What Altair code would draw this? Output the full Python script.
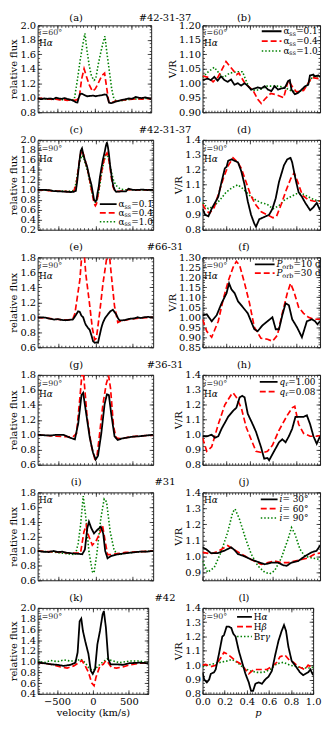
import altair as alt
import pandas as pd

FONT = "DejaVu Serif"

# ---------------- data ----------------
# (a) relative flux vs velocity, i=60
A_K = [(-770,0.99),(-720,0.98),(-680,0.99),(-640,0.985),(-600,0.99),(-560,0.98),(-520,1.0),(-480,0.99),(-440,0.985),(-400,0.995),(-360,0.98),(-330,0.975),(-290,0.96),(-255,0.94),(-230,0.935),(-215,0.99),(-195,1.05),(-170,1.055),(-140,1.04),(-100,1.02),(-60,1.025),(-20,1.03),(20,1.02),(60,1.03),(100,1.035),(140,1.045),(165,1.04),(180,1.0),(200,0.93),(230,0.925),(270,0.94),(320,0.955),(380,0.97),(425,0.98),(470,0.99),(510,0.985),(558,1.01),(600,1.0),(640,0.995),(690,1.005),(730,0.995),(770,0.98)]
A_R = [(-770,0.985),(-720,0.99),(-670,0.98),(-620,0.985),(-570,0.975),(-520,0.98),(-470,0.97),(-420,0.975),(-370,0.965),(-320,0.97),(-270,0.965),(-240,0.97),(-205,1.0),(-175,1.25),(-140,1.40),(-110,1.3),(-71,1.18),(-27,1.09),(10,1.12),(38,1.17),(75,1.25),(105,1.31),(138,1.34),(165,1.15),(195,0.94),(230,0.93),(280,0.95),(340,0.96),(400,0.97),(460,0.975),(520,0.98),(580,0.985),(640,0.98),(700,0.99),(770,0.985)]
A_G = [(-770,0.99),(-700,0.98),(-640,0.985),(-580,0.98),(-520,0.985),(-460,0.975),(-400,0.97),(-340,0.965),(-300,0.97),(-272,0.98),(-230,1.25),(-196,1.5),(-160,1.72),(-129,1.89),(-100,1.65),(-71,1.45),(-40,1.3),(-5,1.24),(18,1.26),(50,1.45),(85,1.62),(115,1.75),(142,1.85),(170,1.62),(205,1.35),(235,1.12),(263,0.99),(290,0.96),(340,0.955),(400,0.965),(460,0.975),(520,0.98),(580,0.985),(640,0.98),(700,0.99),(770,0.985)]
# (b) V/R vs phase, i=60
B_K = [(0,1.011),(0.043,1.016),(0.071,1.011),(0.1,1.022),(0.129,1.009),(0.157,1.024),(0.186,1.011),(0.214,1.005),(0.243,1.013),(0.271,0.995),(0.3,1.0),(0.329,0.992),(0.357,1.0),(0.386,0.991),(0.414,0.978),(0.443,0.982),(0.471,0.986),(0.5,0.982),(0.529,0.99),(0.557,0.978),(0.586,0.973),(0.614,0.99),(0.643,0.978),(0.671,0.982),(0.7,0.984),(0.729,1.008),(0.743,1.011),(0.757,0.978),(0.786,0.962),(0.814,0.967),(0.843,0.978),(0.871,0.989),(0.9,0.995),(0.914,1.027),(0.943,1.03),(0.957,1.024),(0.986,1.027),(1.0,1.022)]
B_R = [(0,1.025),(0.05,1.02),(0.09,1.005),(0.13,1.02),(0.2,1.075),(0.25,1.05),(0.29,1.03),(0.31,1.035),(0.36,1.0),(0.43,0.975),(0.47,0.945),(0.5,0.93),(0.53,0.945),(0.58,0.965),(0.63,0.96),(0.69,0.95),(0.73,1.01),(0.77,0.985),(0.8,0.97),(0.86,0.975),(0.93,1.02),(1.0,1.015)]
B_G = [(0,1.02),(0.05,1.04),(0.1,1.055),(0.15,1.03),(0.18,1.02),(0.23,1.035),(0.3,1.04),(0.34,1.04),(0.4,0.98),(0.45,0.975),(0.5,0.98),(0.55,0.99),(0.6,0.99),(0.65,0.99),(0.7,0.985),(0.75,0.975),(0.8,0.97),(0.85,0.975),(0.9,1.0),(0.94,1.025),(1.0,1.02)]
# (c) relative flux, i=90
C_K = [(-770,1.0),(-700,1.0),(-640,0.995),(-600,0.99),(-559,0.975),(-500,0.97),(-440,0.965),(-380,0.96),(-330,0.955),(-290,0.96),(-260,0.98),(-240,1.2),(-215,1.55),(-195,1.78),(-178,1.83),(-160,1.7),(-130,1.55),(-110,1.46),(-80,1.25),(-53,1.1),(-35,0.95),(-18,0.8),(0,0.77),(13,0.78),(30,0.95),(44,1.05),(60,1.25),(79,1.42),(100,1.6),(123,1.75),(140,1.88),(154,1.95),(168,1.85),(180,1.72),(195,1.5),(211,1.33),(225,1.18),(242,1.06),(260,0.99),(277,0.96),(320,0.965),(360,0.97),(409,0.97),(440,1.02),(470,1.01),(497,1.0),(540,0.995),(590,1.0),(629,1.005),(690,0.995),(770,1.0)]
C_R = [(-770,1.0),(-650,0.99),(-560,0.975),(-450,0.97),(-330,0.96),(-290,0.97),(-255,1.1),(-225,1.45),(-200,1.7),(-180,1.79),(-160,1.72),(-130,1.55),(-100,1.38),(-70,1.15),(-40,0.9),(-15,0.72),(0,0.68),(15,0.72),(40,0.95),(70,1.25),(100,1.5),(130,1.68),(155,1.74),(175,1.65),(195,1.45),(215,1.22),(235,1.06),(255,0.99),(280,0.97),(330,0.97),(400,0.99),(460,1.005),(520,0.995),(600,1.0),(680,1.0),(770,0.995)]
C_G = [(-770,1.0),(-650,0.99),(-550,0.98),(-450,0.975),(-350,0.97),(-300,0.98),(-270,1.05),(-240,1.3),(-210,1.55),(-180,1.69),(-160,1.66),(-130,1.5),(-100,1.35),(-70,1.12),(-40,0.9),(-15,0.76),(5,0.75),(25,0.82),(50,1.0),(80,1.3),(110,1.55),(140,1.7),(165,1.68),(190,1.52),(215,1.35),(240,1.2),(270,1.1),(300,1.05),(340,1.01),(400,1.0),(500,1.0),(600,0.995),(770,1.0)]
# (d) V/R, i=90
D_K = [(0,0.94),(0.022,0.90),(0.05,0.89),(0.078,0.94),(0.106,0.98),(0.134,1.02),(0.162,1.12),(0.19,1.21),(0.205,1.22),(0.218,1.26),(0.246,1.27),(0.274,1.26),(0.302,1.25),(0.33,1.19),(0.358,1.10),(0.385,0.99),(0.413,0.90),(0.441,0.84),(0.455,0.82),(0.483,0.87),(0.511,0.88),(0.539,0.89),(0.567,0.90),(0.595,0.94),(0.623,1.01),(0.651,1.12),(0.693,1.23),(0.721,1.27),(0.749,1.28),(0.763,1.25),(0.791,1.14),(0.818,1.05),(0.846,1.02),(0.874,0.98),(0.916,0.93),(0.944,0.95),(0.972,0.98),(1.0,0.93)]
D_R = [(0,0.97),(0.03,0.93),(0.06,0.91),(0.1,0.95),(0.14,1.05),(0.18,1.15),(0.22,1.23),(0.26,1.28),(0.3,1.25),(0.33,1.21),(0.37,1.12),(0.41,1.03),(0.45,0.97),(0.5,0.92),(0.55,0.9),(0.6,0.88),(0.63,0.89),(0.67,0.97),(0.71,1.06),(0.75,1.14),(0.78,1.18),(0.81,1.12),(0.85,1.03),(0.9,1.0),(0.95,0.99),(1.0,0.99)]
D_G = [(0,0.98),(0.05,0.94),(0.1,0.96),(0.15,1.0),(0.2,1.05),(0.25,1.08),(0.3,1.1),(0.35,1.07),(0.4,1.03),(0.45,1.0),(0.5,0.98),(0.55,0.97),(0.6,0.94),(0.65,0.96),(0.7,1.0),(0.75,1.02),(0.8,1.04),(0.85,1.04),(0.9,1.02),(0.95,1.0),(1.0,0.99)]
# (e) relative flux, Porb
E_K = [(-770,1.0),(-700,1.0),(-640,0.99),(-600,0.98),(-550,0.97),(-500,0.975),(-450,0.965),(-400,0.96),(-350,0.965),(-300,0.97),(-260,1.03),(-230,1.08),(-210,1.075),(-185,1.02),(-163,1.0),(-140,0.93),(-128,0.9),(-100,0.86),(-75,0.83),(-50,0.75),(-31,0.68),(-9,0.66),(15,0.665),(35,0.66),(57,0.76),(80,0.86),(101,0.93),(130,0.99),(167,1.04),(200,1.08),(233,1.10),(255,1.07),(277,1.04),(300,0.99),(321,0.96),(360,0.96),(400,0.965),(460,0.98),(520,0.985),(560,1.0),(600,0.99),(650,1.0),(700,1.005),(770,1.0)]
E_R = [(-770,1.0),(-700,0.99),(-620,0.985),(-550,0.975),(-480,0.97),(-420,0.965),(-360,0.965),(-300,0.98),(-273,1.05),(-207,1.5),(-185,1.78),(-160,1.92),(-145,1.8),(-128,1.58),(-84,1.23),(-40,0.85),(-9,0.70),(13,0.72),(57,1.06),(101,1.45),(145,1.75),(170,1.92),(190,1.8),(211,1.58),(255,1.15),(299,0.93),(340,0.95),(400,0.96),(460,0.975),(520,0.98),(600,0.99),(680,0.995),(770,1.0)]
# (f) V/R, Porb
F_K = [(0,1.01),(0.036,1.015),(0.078,0.98),(0.12,1.01),(0.162,1.07),(0.204,1.12),(0.226,1.17),(0.246,1.14),(0.274,1.12),(0.302,1.08),(0.344,1.05),(0.385,1.02),(0.441,0.94),(0.469,0.93),(0.511,0.96),(0.553,0.98),(0.595,1.0),(0.623,0.94),(0.651,0.94),(0.679,1.01),(0.707,1.07),(0.735,1.06),(0.763,0.99),(0.804,0.95),(0.846,0.90),(0.888,0.98),(0.93,0.99),(0.958,0.98),(0.978,0.965),(1.0,0.98)]
F_R = [(0,0.99),(0.036,0.93),(0.078,0.90),(0.134,0.98),(0.176,1.09),(0.218,1.18),(0.26,1.25),(0.288,1.28),(0.316,1.26),(0.358,1.17),(0.4,1.07),(0.441,0.95),(0.497,0.895),(0.553,0.89),(0.595,0.88),(0.637,0.91),(0.679,1.02),(0.721,1.12),(0.749,1.17),(0.777,1.13),(0.818,1.05),(0.86,1.02),(0.902,1.0),(0.944,0.99),(1.0,0.99)]
# (g) relative flux, qr
G_K = [(-770,1.0),(-700,0.995),(-603,0.99),(-520,1.0),(-427,1.0),(-380,0.98),(-339,0.96),(-273,0.94),(-229,1.15),(-185,1.53),(-163,1.56),(-128,1.32),(-75,0.96),(-31,0.76),(4,0.67),(35,0.72),(79,1.02),(123,1.41),(154,1.54),(180,1.53),(211,1.28),(255,0.98),(299,0.93),(350,0.95),(409,0.96),(500,0.975),(585,0.98),(673,0.99),(770,1.0)]
G_R = [(-770,1.0),(-650,0.99),(-520,0.98),(-400,0.975),(-300,0.97),(-251,1.02),(-207,1.49),(-180,1.8),(-165,1.85),(-150,1.72),(-110,1.23),(-53,0.85),(-9,0.68),(22,0.72),(57,1.02),(101,1.41),(145,1.68),(176,1.79),(202,1.62),(242,1.11),(277,0.96),(320,0.95),(400,0.96),(500,0.975),(600,0.985),(770,0.995)]
# (h) V/R, qr
H_K = [(0,0.99),(0.036,0.99),(0.078,1.0),(0.106,0.98),(0.134,0.99),(0.162,1.04),(0.218,1.12),(0.26,1.16),(0.288,1.18),(0.316,1.25),(0.338,1.26),(0.358,1.25),(0.385,1.14),(0.427,1.07),(0.455,1.02),(0.497,0.92),(0.525,0.84),(0.553,0.845),(0.567,0.83),(0.609,0.89),(0.651,0.95),(0.679,0.97),(0.707,0.95),(0.735,0.99),(0.763,1.04),(0.791,1.12),(0.818,1.12),(0.86,1.12),(0.888,1.13),(0.916,1.07),(0.944,0.99),(0.972,0.94),(1.0,0.99)]
H_R = [(0,0.98),(0.036,0.89),(0.078,0.92),(0.134,1.07),(0.19,1.2),(0.246,1.27),(0.26,1.28),(0.288,1.25),(0.33,1.18),(0.372,1.05),(0.413,0.97),(0.455,0.89),(0.511,0.88),(0.553,0.89),(0.595,0.93),(0.651,1.03),(0.721,1.13),(0.763,1.18),(0.785,1.19),(0.818,1.07),(0.86,1.01),(0.916,0.99),(0.972,0.99),(1.0,0.995)]
# (i) relative flux, inclination
I_K = [(-770,1.0),(-700,0.99),(-620,0.985),(-560,1.0),(-500,0.985),(-440,0.99),(-380,0.975),(-330,0.97),(-280,0.965),(-220,0.96),(-175,0.955),(-140,1.02),(-108,1.31),(-86,1.40),(-54,1.31),(-18,1.24),(27,1.29),(72,1.33),(104,1.24),(131,1.0),(162,0.90),(207,0.93),(275,0.95),(340,0.96),(410,0.97),(500,0.98),(590,0.99),(680,0.99),(770,1.0)]
I_R = [(-770,1.0),(-600,0.99),(-450,0.98),(-300,0.97),(-198,0.97),(-153,1.26),(-122,1.35),(-95,1.22),(-41,1.08),(5,1.13),(50,1.22),(95,1.35),(131,1.13),(162,0.95),(207,0.95),(275,0.96),(400,0.98),(600,0.99),(770,1.0)]
I_G = [(-770,1.0),(-650,0.99),(-550,0.985),(-450,0.97),(-350,0.96),(-266,0.95),(-230,1.1),(-198,1.35),(-162,1.75),(-131,1.49),(-86,0.99),(-41,0.72),(-18,0.70),(18,0.95),(72,1.44),(117,1.71),(149,1.67),(198,1.26),(252,1.0),(320,0.95),(400,0.97),(500,0.98),(600,0.99),(770,1.0)]
# (j) V/R, inclination
J_K = [(0,1.056),(0.029,1.045),(0.071,1.02),(0.129,1.02),(0.186,1.035),(0.243,1.056),(0.271,1.04),(0.3,1.015),(0.357,1.0),(0.414,0.98),(0.471,0.965),(0.529,0.95),(0.586,0.96),(0.643,0.96),(0.686,0.945),(0.714,0.94),(0.757,0.96),(0.814,0.97),(0.871,1.0),(0.929,1.025),(0.971,1.035),(1.0,1.067)]
J_R = [(0,1.025),(0.071,1.015),(0.129,1.03),(0.214,1.067),(0.271,1.04),(0.329,1.015),(0.414,0.98),(0.5,0.95),(0.557,0.96),(0.614,0.97),(0.671,0.96),(0.729,0.96),(0.786,0.97),(0.843,0.98),(0.9,0.99),(0.957,1.015),(1.0,1.02)]
J_G = [(0,0.97),(0.043,0.90),(0.1,0.93),(0.157,1.025),(0.214,1.15),(0.257,1.275),(0.277,1.296),(0.314,1.233),(0.371,1.1),(0.414,1.015),(0.471,0.94),(0.529,0.90),(0.571,0.89),(0.614,0.91),(0.671,0.99),(0.729,1.11),(0.757,1.18),(0.786,1.14),(0.829,1.045),(0.871,1.0),(0.929,0.99),(1.0,0.98)]
# (k) relative flux, lines
K_K = [(-770,0.98),(-679,0.97),(-587,0.95),(-496,0.94),(-404,0.92),(-313,0.94),(-244,0.98),(-213,1.17),(-185,1.75),(-162,1.80),(-139,1.57),(-107,1.38),(-62,1.14),(-30,0.83),(-2,0.77),(30,0.86),(62,1.32),(98,1.57),(135,1.88),(153,1.94),(181,1.63),(213,1.05),(245,0.95),(327,0.95),(418,0.94),(510,0.97),(647,0.98),(770,0.97)]
K_R = [(-770,0.98),(-587,0.95),(-450,0.90),(-359,0.88),(-267,0.92),(-199,0.98),(-153,1.02),(-107,0.92),(-62,0.80),(-16,0.60),(16,0.55),(43,0.71),(98,0.92),(144,0.95),(181,1.02),(213,0.98),(258,0.89),(327,0.88),(418,0.90),(510,0.94),(647,0.97),(770,0.98)]
K_G = [(-770,1.01),(-679,0.98),(-587,1.02),(-496,1.0),(-404,1.03),(-313,1.01),(-222,1.01),(-176,1.05),(-107,0.98),(-62,0.89),(-16,0.84),(30,0.86),(98,0.95),(167,1.02),(199,1.05),(258,1.02),(373,0.98),(510,1.01),(647,1.01),(770,0.98)]
# (l) V/R, lines
L_K = [(0,0.95),(0.015,0.90),(0.039,0.88),(0.06,0.90),(0.075,0.94),(0.104,0.95),(0.119,0.97),(0.149,1.08),(0.179,1.20),(0.194,1.21),(0.218,1.27),(0.239,1.27),(0.26,1.26),(0.278,1.22),(0.299,1.20),(0.328,1.10),(0.358,1.02),(0.388,0.94),(0.418,0.88),(0.439,0.82),(0.457,0.82),(0.478,0.87),(0.507,0.88),(0.537,0.87),(0.567,0.90),(0.597,0.92),(0.627,0.96),(0.657,1.07),(0.687,1.17),(0.716,1.24),(0.737,1.28),(0.755,1.24),(0.776,1.13),(0.806,1.03),(0.836,1.0),(0.881,0.95),(0.91,0.93),(0.955,0.95),(0.976,0.97),(1.0,0.93)]
L_R = [(0,1.0),(0.03,1.005),(0.075,0.99),(0.119,1.0),(0.164,1.05),(0.194,1.09),(0.218,1.08),(0.254,1.06),(0.299,1.03),(0.343,1.01),(0.388,0.97),(0.418,0.94),(0.463,0.97),(0.522,0.97),(0.582,0.97),(0.627,0.99),(0.672,1.02),(0.701,1.06),(0.746,1.07),(0.791,1.03),(0.821,1.02),(0.866,0.99),(0.925,0.97),(0.955,1.0),(1.0,0.98)]
L_G = [(0,0.99),(0.045,1.0),(0.104,1.01),(0.164,1.02),(0.224,1.03),(0.269,1.04),(0.313,1.02),(0.373,0.98),(0.433,0.96),(0.493,0.95),(0.552,0.95),(0.612,0.97),(0.672,1.01),(0.731,1.02),(0.791,1.0),(0.851,0.99),(0.91,0.98),(0.97,0.98),(1.0,0.985)]

# legend labels as (text, size, shift, style) pieces so that subscripts can be drawn
ALPHA = [[("α", 9, 0, "normal"), ("ss", 6.5, 2.5, "normal"), ("=" + v, 9, 0, "normal")] for v in ["0.1", "0.4", "1.0"]]
PORB = [[("P", 9, 0, "italic"), ("orb", 6.5, 2.5, "normal"), ("=" + v + " d", 9, 0, "normal")] for v in ["10", "30"]]
QR = [[("q", 9, 0, "italic"), ("r", 6.5, 2.5, "normal"), ("=" + v, 9, 0, "normal")] for v in ["1.00", "0.08"]]
INC = [[("i", 9, 0, "italic"), (" = " + v + "°", 9, 0, "normal")] for v in ["30", "60", "90"]]
LINES = [[("H", 9, 0, "normal"), ("α", 9, 0, "italic")], [("H", 9, 0, "normal"), ("β", 9, 0, "italic")],
         [("Br", 9, 0, "normal"), ("γ", 9, 0, "italic")]]

VEL_DOMAIN = [-770, 770]
VEL_TICKS = [-500, 0, 500]
PHASE_TICKS = [0.0, 0.2, 0.4, 0.6, 0.8, 1.0]

STYLE = {"k": ("#000000", [1, 0], 1.8), "r": ("#ff0000", [6, 3], 1.8), "g": ("#008000", [1.5, 2], 1.6)}
EM = {"0": .636, "1": .636, "2": .636, "3": .636, "4": .636, "5": .636, "6": .636, "7": .636, "8": .636, "9": .636,
      ".": .318, "=": .838, " ": .318, "°": .5, "α": .66, "β": .64, "γ": .59, "s": .53, "o": .6, "r": .48, "b": .64,
      "P": .65, "q": .64, "d": .64, "i": .32, "H": .87, "B": .74}


def steps(lo, hi, step):
    n = int(round((hi - lo) / step))
    return [round(lo + i * step, 6) for i in range(n + 1)]


def txt(s, x, y, size=10, style="normal", align="center", color="#000000"):
    return alt.Chart(alt.Data(values=[{"t": s}])).mark_text(
        font=FONT, fontSize=size, fontStyle=style, align=align, baseline="middle", color=color
    ).encode(x=alt.value(x), y=alt.value(y), text="t:N")


def pieces(segs, x, y, color="#000000"):
    out = []
    for s, size, dy, style in segs:
        out.append(txt(s, x, y + dy, size, style, "left", color))
        x += sum(EM.get(c, 0.6) for c in s) * size
    return out


def legend_layers(keys, labels, x0, y0, dy, slen):
    out = []
    for i, (k, lab) in enumerate(zip(keys, labels)):
        col, dash, w = STYLE[k]
        y = y0 + i * dy
        out.append(alt.Chart(alt.Data(values=[{"k": k}])).mark_rule(color=col, strokeDash=dash, strokeWidth=w)
                   .encode(x=alt.value(x0), x2=alt.value(x0 + slen), y=alt.value(y)))
        out += pieces(lab, x0 + slen + 2, y)
    return out


def panel(series, labels, left, W, H, ydom, ymaj, yfmt, titles, legend=None, notes=(), bottom=False):
    keys = [k for k, _ in series]
    rows = []
    order = {"g": 0, "r": 1, "k": 2}
    for k, pts in series:
        for x, y in pts:
            rows.append({"x": x, "y": y, "s": k, "o": order[k]})
    df = pd.DataFrame(rows).sort_values("o", kind="stable")

    if left:
        xdom, xmaj, xmin, xfmt, xtitle, xts = VEL_DOMAIN, VEL_TICKS, steps(-750, 750, 50), "d", "velocity (km/s)", "normal"
        ytitle = "relative flux"
    else:
        xdom, xmaj, xmin, xfmt, xtitle, xts = [0, 1], PHASE_TICKS, steps(0, 1, 0.025), ".1f", "p", "italic"
        ytitle = "V/R"
    ystep = round(ymaj[1] - ymaj[0], 6)
    ymin = steps(ydom[0], ydom[1], ystep / 4)
    xs = alt.Scale(domain=xdom, nice=False, zero=False)
    ys = alt.Scale(domain=ydom, nice=False, zero=False)

    if bottom:
        xaxis = alt.Axis(values=xmaj, format=xfmt, ticks=False, domain=False, grid=False, labelFlush=False,
                         labelOverlap=False, labelPadding=3, title=xtitle, titlePadding=1, titleFontStyle=xts)
    else:
        xaxis = None
    yaxis = alt.Axis(values=ymaj, format=yfmt, ticks=False, domain=False, grid=False, labelFlush=False,
                     labelOverlap=False, labelPadding=2, title=ytitle, titlePadding=1)

    doms = ["g", "r", "k"]
    main = alt.Chart(df).mark_line(clip=True).encode(
        x=alt.X("x:Q", scale=xs, axis=xaxis),
        y=alt.Y("y:Q", scale=ys, axis=yaxis),
        color=alt.Color("s:N", scale=alt.Scale(domain=doms, range=[STYLE[k][0] for k in doms]), legend=None),
        strokeDash=alt.StrokeDash("s:N", scale=alt.Scale(domain=doms, range=[STYLE[k][1] for k in doms]), legend=None),
        strokeWidth=alt.StrokeWidth("s:N", scale=alt.Scale(domain=doms, range=[STYLE[k][2] for k in doms]), legend=None),
        detail="s:N",
    )
    layers = [main]
    for xv, yv, size in ((xmaj, ymaj, 4), (xmin, ymin, 2)):
        for xo, yo in (("top", "right"), ("bottom", "left")):
            layers.append(alt.Chart(df).mark_line(opacity=0, clip=True).encode(
                x=alt.X("x:Q", scale=xs, axis=alt.Axis(orient=xo, offset=-H, values=xv, labels=False, domain=False,
                                                       ticks=True, tickSize=size, tickWidth=0.8, tickColor="#222222",
                                                       title=None, grid=False)),
                y=alt.Y("y:Q", scale=ys, axis=alt.Axis(orient=yo, offset=-W, values=yv, labels=False, domain=False,
                                                       ticks=True, tickSize=size, tickWidth=0.8, tickColor="#222222",
                                                       title=None, grid=False)),
            ))
    for t in titles:
        layers.append(txt(*t))
    layers += list(notes)
    if legend is not None:
        layers += legend_layers(keys, labels, *legend)
    return alt.layer(*layers).properties(width=W, height=H).resolve_axis(x="independent", y="independent")


def ivalue(angle, y):
    return pieces([("i", 8, 0, "italic"), ("=" + angle + "°", 8, 0, "normal")], 1.5, y, "#333333")


def halpha(y):
    return pieces([("H", 9, 0, "normal"), ("α", 9, 0, "italic")], 1.5, y)


F1 = [0.8, 1.0, 1.2, 1.4, 1.6, 1.8, 2.0]
panels = [
    panel([("k", A_K), ("r", A_R), ("g", A_G)], ALPHA, True, 115, 88, [0.8, 2.0], F1, ".1f",
          [("(a)", 39, -7), ("#42-31-37", 129, -7)], notes=ivalue("60", 8) + halpha(18)),
    panel([("k", B_K), ("r", B_R), ("g", B_G)], ALPHA, False, 119, 88, [0.9, 1.2], steps(0.9, 1.2, 0.05), ".2f",
          [("(b)", 42, -7)], legend=(60, 6, 10, 20), notes=ivalue("60", 8) + halpha(18)),
    panel([("k", C_K), ("r", C_R), ("g", C_G)], ALPHA, True, 117, 91, [0.2, 2.0], steps(0.2, 2.0, 0.2), ".1f",
          [("(c)", 39, -10), ("#42-31-37", 129, -10)], legend=(63, 65, 9, 17), notes=ivalue("90", 9) + halpha(19)),
    panel([("k", D_K), ("r", D_R), ("g", D_G)], ALPHA, False, 119, 91, [0.8, 1.4], steps(0.8, 1.4, 0.1), ".1f",
          [("(d)", 42, -10)], notes=ivalue("90", 9) + halpha(19)),
    panel([("k", E_K), ("r", E_R)], PORB, True, 117, 91, [0.6, 1.8], steps(0.6, 1.8, 0.2), ".1f",
          [("(e)", 39, -10), ("#66-31", 129, -10)], notes=ivalue("90", 9) + halpha(19)),
    panel([("k", F_K), ("r", F_R)], PORB, False, 119, 91, [0.85, 1.3], steps(0.85, 1.3, 0.05), ".2f",
          [("(f)", 42, -10)], legend=(53, 7, 9, 20), notes=ivalue("90", 9) + halpha(19)),
    panel([("k", G_K), ("r", G_R)], QR, True, 117, 91, [0.6, 1.8], steps(0.6, 1.8, 0.2), ".1f",
          [("(g)", 39, -10), ("#36-31", 129, -10)], notes=ivalue("90", 9) + halpha(19)),
    panel([("k", H_K), ("r", H_R)], QR, False, 119, 91, [0.8, 1.4], steps(0.8, 1.4, 0.1), ".1f",
          [("(h)", 42, -10)], legend=(58, 7, 10, 18), notes=ivalue("90", 9) + halpha(19)),
    panel([("k", I_K), ("r", I_R), ("g", I_G)], INC, True, 117, 89, [0.6, 1.8], steps(0.6, 1.8, 0.2), ".1f",
          [("(i)", 39, -10), ("#31", 129, -10)], notes=halpha(8)),
    panel([("k", J_K), ("r", J_R), ("g", J_G)], INC, False, 119, 89, [0.85, 1.4], steps(0.9, 1.4, 0.1), ".1f",
          [("(j)", 42, -10)], legend=(59, 7, 9.5, 17), notes=halpha(8)),
    panel([("k", K_K), ("r", K_R), ("g", K_G)], LINES, True, 112, 87, [0.4, 2.0], steps(0.4, 2.0, 0.2), ".1f",
          [("(k)", 39, -10), ("#42", 129, -10)], notes=ivalue("90", 9), bottom=True),
    panel([("k", L_K), ("r", L_R), ("g", L_G)], LINES, False, 112, 87, [0.8, 1.4], steps(0.8, 1.4, 0.1), ".1f",
          [("(l)", 42, -10)], legend=(35, 9, 10, 15), notes=ivalue("90", 9), bottom=True),
]

chart = alt.concat(*panels, columns=2, spacing={"row": 28, "column": 50}, bounds="flush").resolve_scale(
    color="independent", strokeDash="independent", strokeWidth="independent"
).properties(padding=0).configure_view(stroke="#222222", strokeWidth=1).configure_axis(
    labelFont=FONT, labelFontSize=10, labelColor="#000000", titleFont=FONT, titleFontSize=10,
    titleFontWeight="normal", titleColor="#000000"
)

chart.save("out.html", embed_options={"renderer": "svg", "actions": False})
